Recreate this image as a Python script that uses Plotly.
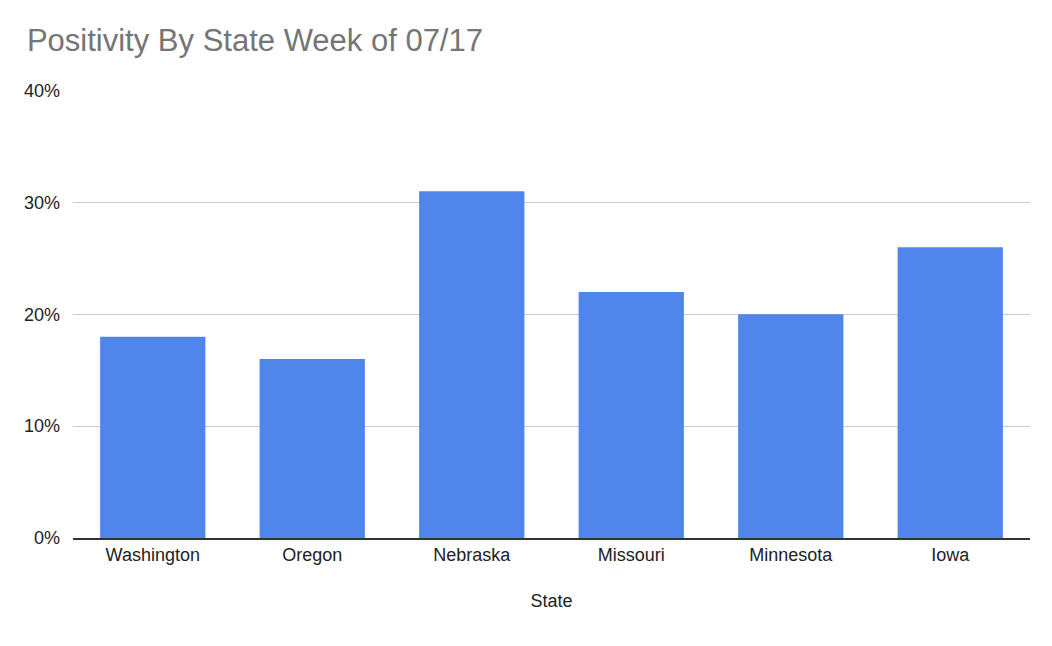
import plotly.graph_objects as go

states = ['Washington', 'Oregon', 'Nebraska', 'Missouri', 'Minnesota', 'Iowa']
positivity = [0.18, 0.16, 0.31, 0.22, 0.20, 0.26]

fig = go.Figure()

fig.add_trace(
    go.Bar(
        x=states,
        y=positivity,
        marker=dict(color='#5086ec', line=dict(width=0)),
    )
)

fig.update_layout(
    width=1052,
    height=646,
    paper_bgcolor='white',
    plot_bgcolor='white',
    font=dict(family='Arial, Liberation Sans, sans-serif', size=18, color='#222222'),
    title=dict(text='Positivity By State Week of 07/17', x=0.018, y=0.95,
               xanchor='left', yanchor='middle',
               font=dict(size=31, color='#757575')),
    margin=dict(l=65, r=30, t=82, b=116),
    bargap=0.34,
    showlegend=False,
)

fig.update_xaxes(
    title=dict(text='State', standoff=30, font=dict(size=18, color='#222222')),
    showline=True, linecolor='#333333', linewidth=1.5,
    ticks='', showgrid=False,
)

fig.update_yaxes(
    range=[0, 0.4005], dtick=0.1, tickformat='.0%',
    gridcolor='#cccccc', gridwidth=1, zeroline=False,
    ticklabelstandoff=12,
)

fig.write_html("out.html")
